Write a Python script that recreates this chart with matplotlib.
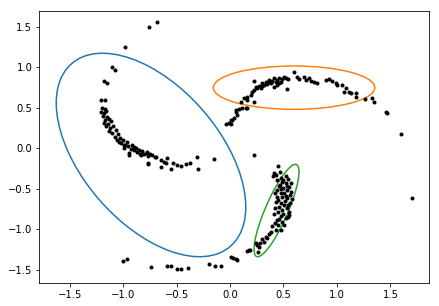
import matplotlib
matplotlib.use('Agg')
import matplotlib.pyplot as plt
from matplotlib.patches import Ellipse
import numpy as np

# points, grouped by region (data units)
upper_left = [(-0.679, 1.552), (-0.758, 1.490), (-0.982, 1.243), (-1.107, 0.996),
              (-1.079, 0.959), (-1.179, 0.827), (-1.147, 0.806), (-1.203, 0.593),
              (-1.172, 0.589)]

left_arc = [(-1.20, 0.50), (-1.17, 0.48), (-1.21, 0.45), (-1.18, 0.43), (-1.16, 0.46),
            (-1.19, 0.40), (-1.15, 0.38), (-1.17, 0.35), (-1.13, 0.36), (-1.18, 0.31),
            (-1.14, 0.30), (-1.11, 0.33), (-1.16, 0.27), (-1.12, 0.25), (-1.09, 0.27),
            (-1.13, 0.21), (-1.10, 0.19), (-1.07, 0.22), (-1.05, 0.17), (-1.08, 0.14),
            (-1.03, 0.12), (-1.06, 0.10), (-1.00, 0.10), (-1.02, 0.06), (-0.98, 0.04),
            (-0.96, 0.08), (-0.99, 0.00), (-0.95, 0.02), (-0.93, -0.01), (-0.92, 0.04),
            (-0.90, -0.03), (-0.88, 0.00), (-0.87, -0.05), (-0.85, -0.02), (-0.84, -0.07),
            (-0.82, -0.04), (-0.80, -0.08), (-0.78, -0.05), (-0.77, -0.10), (-0.75, -0.07),
            (-0.73, -0.09), (-1.038, 0.078), (-0.991, 0.037), (-0.945, -0.065),
            (-0.898, 0.016), (-0.835, -0.086), (-0.773, -0.065), (-0.945, -0.086)]

arc_tail = [(-0.70, -0.11), (-0.695, -0.107), (-0.648, -0.148), (-0.642, -0.231),
            (-0.601, -0.189), (-0.586, -0.127), (-0.555, -0.263), (-0.492, -0.210),
            (-0.461, -0.222), (-0.414, -0.198), (-0.377, -0.189), (-0.305, -0.107),
            (-0.299, -0.263), (-0.150, -0.140), (-0.767, -0.198), (-0.770, -0.180),
            (-0.620, -0.170), (-0.530, -0.190)]

top_arc = [(-0.040, 0.293), (-0.009, 0.305), (0.013, 0.346), (0.037, 0.367), (0.069, 0.407),
           (0.053, 0.448), (0.084, 0.478), (0.116, 0.498), (0.147, 0.490), (0.100, 0.572),
           (0.131, 0.613), (0.163, 0.633), (0.194, 0.654), (0.210, 0.695), (0.225, 0.716),
           (0.240, 0.757), (0.256, 0.737), (0.271, 0.769), (0.287, 0.744), (0.303, 0.798),
           (0.318, 0.778), (0.225, 0.827), (0.334, 0.819), (0.350, 0.786), (0.365, 0.840),
           (0.381, 0.798), (0.397, 0.827), (0.412, 0.860), (0.428, 0.819), (0.443, 0.840),
           (0.458, 0.868), (0.474, 0.819), (0.490, 0.852), (0.505, 0.880), (0.521, 0.860),
           (0.530, 0.728), (0.443, 0.778), (0.412, 0.757), (0.599, 0.934), (0.630, 0.880),
           (0.645, 0.852), (0.692, 0.880), (0.708, 0.840), (0.739, 0.868), (0.755, 0.827),
           (0.818, 0.798), (0.786, 0.819), (0.895, 0.840), (0.926, 0.852), (0.958, 0.827),
           (0.989, 0.798), (1.005, 0.778), (1.051, 0.778), (1.082, 0.737), (1.067, 0.688),
           (1.113, 0.695), (1.129, 0.675), (1.176, 0.675), (1.182, 0.626), (0.022, 0.346),
           (0.007, 0.296), (0.156, 0.498), (0.225, 0.572), (0.163, 0.593), (0.053, 0.469),
           (0.300, 0.760), (0.360, 0.810), (0.460, 0.800), (0.540, 0.850)]

right_tail = [(1.263, 0.605), (1.332, 0.613), (1.347, 0.564), (1.463, 0.440),
              (1.472, 0.428), (1.597, 0.169), (1.700, -0.621), (0.225, -0.086)]

band = [(0.449, -0.222), (0.412, -0.313), (0.428, -0.333), (0.402, -0.342), (0.443, -0.395),
        (0.474, -0.374), (0.543, -0.387), (0.490, -0.416), (0.521, -0.436), (0.568, -0.436),
        (0.468, -0.457), (0.552, -0.478), (0.500, -0.498), (0.443, -0.519), (0.537, -0.519),
        (0.574, -0.539), (0.474, -0.560), (0.505, -0.560), (0.521, -0.593), (0.437, -0.601),
        (0.490, -0.601), (0.584, -0.634), (0.561, -0.675), (0.428, -0.663), (0.474, -0.683),
        (0.505, -0.704), (0.458, -0.725), (0.530, -0.745), (0.490, -0.765), (0.552, -0.786),
        (0.449, -0.786), (0.552, -0.827), (0.474, -0.840), (0.437, -0.889), (0.521, -0.868),
        (0.490, -0.910), (0.543, -0.856), (0.418, -0.922), (0.449, -0.951), (0.505, -0.951),
        (0.397, -0.963), (0.428, -1.012), (0.474, -1.012), (0.381, -1.033), (0.460, -0.470),
        (0.510, -0.650), (0.480, -0.500), (0.530, -0.620), (0.460, -0.880), (0.500, -0.400),
        (0.420, -0.560), (0.560, -0.580), (0.450, -0.640), (0.540, -0.700), (0.420, -0.740),
        (0.500, -0.820), (0.410, -0.820), (0.530, -0.470), (0.470, -0.300), (0.520, -0.340),
        (0.365, -1.062), (0.334, -1.095), (0.350, -1.115), (0.303, -1.127), (0.318, -1.157),
        (0.281, -1.177), (0.256, -1.198), (0.240, -1.177), (0.271, -1.218), (0.262, -1.280)]

bottom = [(-0.997, -1.391), (-0.966, -1.370), (-0.742, -1.475), (-0.586, -1.457),
          (-0.555, -1.457), (-0.492, -1.495), (-0.461, -1.495), (-0.393, -1.484),
          (-0.196, -1.434), (-0.143, -1.459), (-0.087, -1.451), (0.007, -1.345),
          (0.032, -1.355), (0.053, -1.370), (0.063, -1.380), (0.156, -1.272),
          (0.178, -1.262), (0.190, -1.260)]

# fitted components: centre, width, height, angle
means = [(-0.739, -0.086), (0.599, 0.745), (0.435, -0.772)]
widths = [2.739, 1.51, 1.196]
heights = [1.397, 0.535, 0.218]
angles = [-62.4, 0.0, 72.2]
colors = ['C0', 'C1', 'C2']

pts = np.array(upper_left + left_arc + arc_tail + top_arc + right_tail + band + bottom)

fig = plt.figure(figsize=(439 / 72, 306 / 72), dpi=72)
ax = fig.add_axes([0.0895, 0.0761, 0.8884, 0.8889])

ax.plot(pts[:, 0], pts[:, 1], 'k.')

for m, w, h, a, c in zip(means, widths, heights, angles, colors):
    ell = Ellipse(m, w, h, angle=a, fill=False, edgecolor=c, linewidth=1.5)
    ax.add_patch(ell)

ax.set_xlim(-1.784, 1.864)
ax.set_ylim(-1.663, 1.695)
ax.set_xticks(np.arange(-1.5, 1.6, 0.5))
ax.set_yticks(np.arange(-1.5, 1.6, 0.5))

fig.savefig('out.png', dpi=72)
